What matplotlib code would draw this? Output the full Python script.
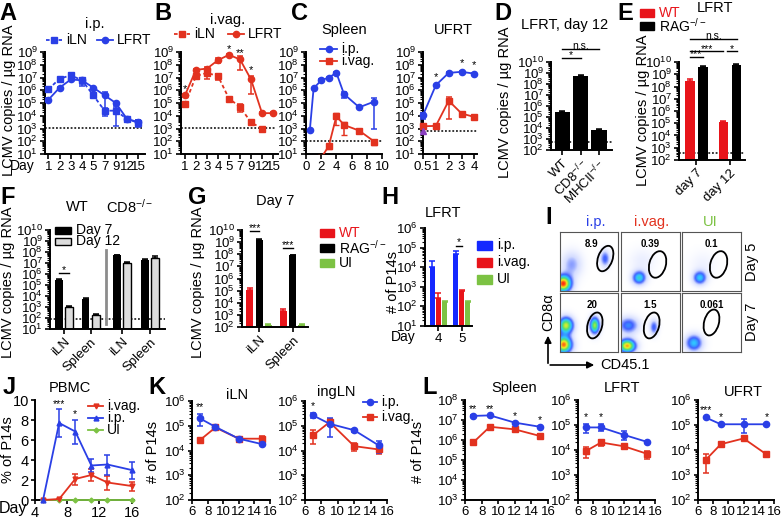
import numpy as np
import matplotlib
matplotlib.use("Agg")
import matplotlib.pyplot as plt
from matplotlib.ticker import LogLocator, NullFormatter, FixedLocator
from matplotlib.patches import Rectangle, Ellipse
from matplotlib.colors import LinearSegmentedColormap

plt.rcParams['font.family'] = ['Liberation Sans', 'DejaVu Sans']
plt.rcParams['mathtext.fontset'] = 'custom'
plt.rcParams['mathtext.rm'] = 'Liberation Sans'
plt.rcParams['mathtext.it'] = 'Liberation Sans:italic'

BLUE = '#2a3fe6'
RED = '#e2321f'
GREEN = '#7cc243'
BBLUE = '#1428ff'
BRED = '#e8141a'

# ---------------- data ----------------
# A / B : viral load, days shown as categories
days_ab = ['1', '2', '3', '4', '5', '7', '9', '12', '15']
a_iln = [1.2e6, 8e6, 1.5e7, 6e6, 4e5, 2.5e4, 2.5e4, 5.6e3, 2.8e3]
a_iln_err = [5e5, 1e6, 6e6, 4e6, 1e5, 1.5e4, 2.35e4, 1e3, 1.5e3]
a_lfrt = [1.8e5, 1.6e6, 7e6, 6e6, 1.6e6, 4e5, 1e5, 5.6e3, 3.2e3]
a_lfrt_err = [5e4, 3e5, 2e6, 3e6, 3e5, 3.7e5, 3e4, 1e3, 1.5e3]

b_iln = [8e4, 1.3e7, 2.3e7, 1.3e7, 2.2e5, 5e4, 3e3, 1e3]
b_iln_err = [1e4, 5e6, 1.5e7, 7e6, 3e4, 3e4, 5e2, 1e2]
b_lfrt = [4e5, 4e7, 5e7, 2.3e8, 6e8, 2.6e8, 7e6, 1.6e4, 1.6e4]
b_lfrt_err = [1e5, 1e7, 1.5e7, 1e8, 1e8, 2.2e8, 6.5e6, 2e3, 2e3]

# C : spleen (numeric days) and UFRT (category days)
c_spl_ip_x = [0.5, 1, 2, 3, 4, 5, 7, 9]
c_spl_ip = [7e2, 1.4e6, 6e6, 1e7, 2.3e7, 5e5, 4.6e4, 1.3e5]
c_spl_ip_err = [1e2, 2e5, 1e6, 1e6, 2e6, 2.5e5, 5e3, 1.29e5]
c_spl_iv_x = [2, 3, 4, 5, 7, 9]
c_spl_iv = [5, 43, 9.3e3, 1.9e3, 6.8e2, 93]
c_spl_iv_err = [0, 20, 7.5e3, 1.6e3, 1e2, 40]

days_ufrt = ['0.5', '1', '2', '3', '4']
c_ufrt_ip = [1.1e4, 2.5e6, 2.3e7, 2.8e7, 2e7]
c_ufrt_ip_err = [5e3, 3e5, 3e6, 3e6, 2e6]
c_ufrt_iv = [1.5e3, 1.6e3, 1.5e5, 1.5e4, 8e3]
c_ufrt_iv_err = [6e2, 2e2, 1.44e5, 2e3, 1e3]

# D : LFRT day 12
d_groups = ['WT', 'CD8$^{-/-}$', 'MHCII$^{-/-}$']
d_vals = [3e5, 5e8, 7e3]
d_err = [5e4, 2e8, 2e3]

# E : LFRT WT vs RAG
e_groups = ['day 7', 'day 12']
e_wt = [3e8, 1.2e5]
e_wt_err = [8e7, 3e4]
e_rag = [4e9, 6e9]
e_rag_err = [1e9, 1e9]

# F : WT / CD8-/- day 7 vs day 12
f_groups = ['iLN', 'Spleen', 'iLN', 'Spleen']
f_d7 = [3e5, 5e3, 5e7, 2e7]
f_d7_err = [8e4, 1.5e3, 5e6, 3e6]
f_d12 = [1e3, 2e2, 1e7, 3e7]
f_d12_err = [2e2, 50, 3e6, 1.2e7]

# G : day 7 WT / RAG / UI
g_groups = ['iLN', 'Spleen']
g_wt = [1.2e5, 2e3]
g_wt_err = [5e4, 1e3]
g_rag = [1.5e9, 8e7]
g_rag_err = [2e8, 1e7]
g_ui = [1.5e2, 1.5e2]
g_ui_err = [30, 20]

# H : LFRT P14 numbers
h_days = ['4', '5']
h_ip = [1e4, 5e4]
h_ip_err = [1e4, 1.5e4]
h_iv = [2.8e2, 6e2]
h_iv_err = [2e2, 50]
h_ui = [1.6e2, 1.6e2]
h_ui_err = [20, 20]

# I : flow gates (column, row) -> frequency
i_freq = [['8.9', '0.39', '0.1'], ['20', '1.5', '0.061']]

# J : PBMC
j_days = [5, 7, 9, 11, 13, 16]
j_iv = [0, 0.1, 2.1, 2.5, 1.75, 1.4]
j_iv_err = [0, 0.05, 0.55, 0.6, 0.7, 0.45]
j_ip = [0, 7.7, 6.85, 3.45, 3.55, 3.0]
j_ip_err = [0, 1.4, 1.2, 0.65, 1.0, 0.85]
j_ui = [0, 0, 0, 0, 0, 0]

# K / L : P14 numbers in tissues
kl_days = [7, 9, 12, 15]
k_iln_ip = [2e5, 9e4, 3e4, 1.8e4]
k_iln_ip_err = [1e5, 1e4, 4e3, 2e3]
k_iln_iv = [2.6e4, 8.5e4, 3e4, 3e4]
k_iln_iv_err = [2e3, 1e4, 6e3, 8e3]
k_ing_ip = [2.6e5, 1.2e5, 6.6e4, 1.6e4]
k_ing_ip_err = [6e4, 8.6e4, 1e4, 8e3]
k_ing_iv = [4.2e4, 1.4e5, 1.5e4, 1.1e4]
k_ing_iv_err = [2.3e4, 4e4, 5e3, 4e3]
l_spl_ip = [1.6e7, 1.7e7, 7.4e6, 4.6e6]
l_spl_ip_err = [1.5e6, 1.5e6, 1e6, 5e5]
l_spl_iv = [7.6e5, 4.6e6, 3.4e6, 1.6e6]
l_spl_iv_err = [1e5, 5e5, 5e5, 3e5]
l_lfrt_ip = [8e4, 8e4, 4e4, 2.1e4]
l_lfrt_ip_err = [3e4, 2.5e4, 1.5e4, 2e3]
l_lfrt_iv = [9e3, 2e4, 1.4e4, 7e3]
l_lfrt_iv_err = [4e3, 5e3, 2e3, 2.5e3]
l_ufrt_ip = [2e5, 1.07e5, 1.07e5, 1.07e5]
l_ufrt_ip_err = [1e4, 5e3, 6e4, 5e3]
l_ufrt_iv = [4e3, 1.7e4, 2.9e4, 6.7e3]
l_ufrt_iv_err = [2.8e3, 2e3, 3e3, 5e2]

# ---------------- helpers ----------------
W, H = 783, 519
fig = plt.figure(figsize=(W / 100, H / 100), dpi=100)

FS = 9.5


def add_ax(l, t, r, b):
    return fig.add_axes([l / W, 1 - b / H, (r - l) / W, (b - t) / H])


def prism(ax, fs=FS, tl=3.5):
    for s in ['top', 'right']:
        ax.spines[s].set_visible(False)
    for s in ['left', 'bottom']:
        ax.spines[s].set_linewidth(1.4)
    ax.tick_params(direction='out', length=tl, width=1.2, labelsize=fs, pad=1.5)
    ax.tick_params(which='minor', length=2, width=0.8)
    ax.patch.set_alpha(0)


def logy(ax, lo, hi):
    ax.set_yscale('log')
    ax.set_ylim(10 ** lo, 10 ** hi)
    ax.yaxis.set_major_locator(FixedLocator([10.0 ** k for k in range(lo, hi + 1)]))
    ax.set_yticklabels(['$10^{%d}$' % k for k in range(lo, hi + 1)])
    ax.yaxis.set_minor_locator(LogLocator(base=10, subs=np.arange(2, 10) * 1.0, numticks=100))
    ax.yaxis.set_minor_formatter(NullFormatter())


def series(ax, x, y, err, color, marker, ls='-', ms=4.5):
    ax.errorbar(x, y, yerr=err, color=color, marker=marker, ls=ls, lw=1.3, ms=ms,
                capsize=2.5, elinewidth=1.1, capthick=1.1, clip_on=False, zorder=3)


def bars(ax, x, y, err, width, color, lo, edge=None):
    y = np.asarray(y, float)
    ax.bar(x, y - 10.0 ** lo, width, bottom=10.0 ** lo, color=color,
           edgecolor=edge if edge else color, lw=1 if edge else 0, zorder=2)
    ax.errorbar(x, y, yerr=[np.zeros(len(y)), err], fmt='none', ecolor=edge if edge else color,
                capsize=2.3, elinewidth=1.1, capthick=1.1, zorder=3)


def dotted(ax, y, x0=0, x1=1):
    ax.axhline(y, x0, x1, color='k', ls=(0, (1.2, 1.2)), lw=1.1, zorder=1)


def sig(ax, x1, x2, y, txt, dy=1.35):
    ax.plot([x1, x2], [y, y], color='k', lw=1, clip_on=False)
    ax.text((x1 + x2) / 2, y * dy, txt, ha='center', va='center', fontsize=7.5)


ov = fig.add_axes([0, 0, 1, 1])
ov.set_xlim(0, W)
ov.set_ylim(H, 0)
ov.axis('off')


def T(x, y, s, **kw):
    kw.setdefault('fontsize', 10.5)
    kw.setdefault('ha', 'center')
    kw.setdefault('va', 'center')
    ov.text(x, y, s, **kw)


def leg_line(x1, x2, y, color, marker, ls, label, tcolor='k', ms=4.5, fs=10):
    ov.plot([x1, x2], [y, y], color=color, ls=ls, lw=1.3)
    ov.plot([(x1 + x2) / 2], [y], color=color, marker=marker, ms=ms)
    T(x2 + 4, y, label, ha='left', color=tcolor, fontsize=fs)


def leg_box(x, y, color, label, tcolor='k', w=14, h=8, edge=None, fs=10):
    ov.add_patch(Rectangle((x, y - h / 2), w, h, color=color, ec=edge if edge else color, lw=1))
    T(x + w + 5, y, label, ha='left', color=tcolor, fontsize=fs)


for lab, (x, y) in zip('ABCDEFGHIJKL', [(8, 13), (163, 13), (300, 13), (503, 13), (625, 13),
                                        (8, 197), (197, 197), (390, 197), (549, 218),
                                        (9, 388), (157, 388), (430, 388)]):
    T(x, y, lab, fontsize=17, fontweight='bold')

YL = 'LCMV copies / \u00b5g RNA'

# ---------------- A ----------------
ax = add_ax(45, 52, 145, 154)
prism(ax)
logy(ax, 1, 9)
xa = np.arange(len(days_ab))
series(ax, xa, a_iln, a_iln_err, BLUE, 's', ls=(0, (2, 1.5)))
series(ax, xa, a_lfrt, a_lfrt_err, BLUE, 'o')
dotted(ax, 1.1e3, 0, 0.97)
ax.set_xlim(-0.3, 8.6)
ax.set_xticks(xa)
ax.set_xticklabels(days_ab)
T(95, 24, 'i.p.')
leg_line(46, 62, 40, BLUE, 's', (0, (2, 1.5)), 'iLN')
leg_line(97, 113, 40, BLUE, 'o', '-', 'LFRT')
T(22, 166, 'Day', fontsize=FS + 0.5)
T(9, 100, YL, rotation=90)

# ---------------- B ----------------
ax = add_ax(181, 52, 278, 154)
prism(ax)
logy(ax, 1, 9)
series(ax, xa[:len(b_iln)], b_iln, b_iln_err, RED, 's', ls=(0, (2, 1.5)))
series(ax, xa, b_lfrt, b_lfrt_err, RED, 'o')
dotted(ax, 1.1e3, 0, 0.97)
ax.set_xlim(-0.36, 8.45)
ax.set_xticks(xa)
ax.set_xticklabels(days_ab)
for i, s, yy in [(0, '*', 1.3e6), (4, '*', 1.6e9), (5, '**', 9e8), (6, '*', 3.5e7)]:
    ax.text(i, yy, s, ha='center', va='center', fontsize=8)
T(228, 20, 'i.vag.')
leg_line(174, 190, 34, RED, 's', (0, (2, 1.5)), 'iLN')
leg_line(228, 244, 34, RED, 'o', '-', 'LFRT')

# ---------------- C ----------------
ax = add_ax(306, 52, 382, 154)
prism(ax)
logy(ax, 1, 9)
series(ax, c_spl_ip_x, c_spl_ip, c_spl_ip_err, BLUE, 'o')
ax.errorbar(c_spl_iv_x, c_spl_iv, yerr=c_spl_iv_err, color=RED, marker='s', lw=1.3, ms=4.5,
            capsize=2.5, elinewidth=1.1, zorder=3)
dotted(ax, 1e2)
ax.set_xlim(0, 10)
ax.set_xticks([0, 2, 4, 6, 8, 10])
T(344, 30, 'Spleen')
leg_line(320, 337, 49, BLUE, 'o', '-', 'i.p.')
leg_line(320, 337, 61, RED, 's', '-', 'i.vag.')

ax = add_ax(423, 52, 477, 154)
prism(ax)
logy(ax, 1, 9)
xu = np.arange(len(days_ufrt))
series(ax, xu, c_ufrt_iv, c_ufrt_iv_err, RED, 's')
series(ax, xu, c_ufrt_ip, c_ufrt_ip_err, BLUE, 'o')
ax.plot([0], [6e2], marker='^', color='#8a3fc0', ms=4.5, clip_on=False, zorder=4)
dotted(ax, 6e2)
ax.set_xlim(0, 4.2)
ax.set_xticks(xu)
ax.set_xticklabels(days_ufrt)
for i in [1, 3, 4]:
    ax.text(i, c_ufrt_ip[i] * 4.5, '*', ha='center', va='center', fontsize=8)
T(453, 30, 'UFRT')

# ---------------- D ----------------
ax = add_ax(551, 62, 612, 150)
prism(ax)
logy(ax, 2, 10)
xd = np.arange(3)
bars(ax, xd, d_vals, d_err, 0.82, 'k', 2)
dotted(ax, 5e2)
ax.set_xlim(-0.6, 2.7)
ax.set_xticks(xd)
ax.set_xticklabels(d_groups, rotation=45, ha='right', rotation_mode='anchor')
sig(ax, 0, 1, 2.2e10, '*', dy=1.9)
sig(ax, 0, 2, 1.4e11, 'n.s.', dy=1.9)
T(565, 25, 'LFRT, day 12')
T(505, 102, YL, rotation=90)

# ---------------- E ----------------
ax = add_ax(679, 62, 745, 160)
prism(ax)
logy(ax, 2, 10)
xe = np.arange(2)
bars(ax, xe - 0.195, e_wt, e_wt_err, 0.28, BRED, 2)
bars(ax, xe + 0.195, e_rag, e_rag_err, 0.28, 'k', 2)
dotted(ax, 4e2)
ax.set_xlim(-0.52, 1.45)
ax.set_xticks(xe)
ax.set_xticklabels(e_groups, rotation=45, ha='right', rotation_mode='anchor')
sig(ax, -0.195, 0.195, 2.6e10, '***', dy=1.6)
sig(ax, -0.195, 0.8, 7.5e10, '***', dy=1.6)
sig(ax, 0.9, 1.2, 7.5e10, '*', dy=1.6)
sig(ax, -0.195, 1.2, 8e11, 'n.s.', dy=1.8)
T(715, 8, 'LFRT')
leg_box(640, 13, BRED, 'WT', tcolor=BRED)
leg_box(640, 26, 'k', 'RAG$^{-/-}$')
T(643, 110, YL, rotation=90)

# ---------------- F ----------------
ax = add_ax(50, 230, 165, 329)
prism(ax)
logy(ax, 1, 10)
xf = np.array([0, 1, 2.2, 3.24])
bars(ax, xf - 0.19, f_d7, f_d7_err, 0.3, 'k', 1)
bars(ax, xf + 0.19, f_d12, f_d12_err, 0.3, '#dcdcdc', 1, edge='k')
dotted(ax, 9e1)
ax.axvline(1.58, 0.05, 0.8, color='#8c8c8c', lw=2)
ax.set_xlim(-0.53, 3.81)
ax.set_xticks(xf)
ax.set_xticklabels(f_groups, rotation=45, ha='right', rotation_mode='anchor')
sig(ax, -0.19, 0.19, 1.3e6, '*', dy=1.9)
T(77, 207, 'WT')
T(130, 207, 'CD8$^{-/-}$')
leg_box(55, 230, 'k', 'Day 7', w=16, h=7)
leg_box(55, 241, '#dcdcdc', 'Day 12', w=16, h=7, edge='k')
T(8, 282, YL, rotation=90)

# ---------------- G ----------------
ax = add_ax(242, 230, 308, 327)
prism(ax)
logy(ax, 2, 10)
xg = np.arange(2)
bars(ax, xg - 0.28, g_wt, g_wt_err, 0.21, BRED, 2)
bars(ax, xg, g_rag, g_rag_err, 0.21, 'k', 2)
bars(ax, xg + 0.27, g_ui, g_ui_err, 0.21, GREEN, 2)
ax.set_xlim(-0.52, 1.46)
ax.set_xticks(xg)
ax.set_xticklabels(g_groups, rotation=45, ha='right', rotation_mode='anchor')
sig(ax, -0.28, 0, 9e9, '***', dy=1.5)
sig(ax, 0.72, 1.0, 3.5e8, '***', dy=1.5)
T(275, 201, 'Day 7')
leg_box(320, 233, BRED, 'WT', tcolor=BRED)
leg_box(320, 248, 'k', 'RAG$^{-/-}$')
leg_box(320, 263, GREEN, 'UI', tcolor='k')
T(198, 282, YL, rotation=90)

# ---------------- H ----------------
ax = add_ax(425, 228, 472, 326)
prism(ax)
logy(ax, 1, 6)
xh = np.arange(2)
bars(ax, xh - 0.26, h_ip, h_ip_err, 0.23, BBLUE, 1)
bars(ax, xh, h_iv, h_iv_err, 0.23, BRED, 1)
bars(ax, xh + 0.26, h_ui, h_ui_err, 0.23, GREEN, 1)
ax.set_xlim(-0.58, 1.44)
ax.set_xticks(xh)
ax.set_xticklabels(h_days)
sig(ax, 0.74, 1.0, 1.2e5, '*', dy=1.6)
T(443, 213, 'LFRT')
T(403, 337, 'Day', fontsize=FS + 0.5)
leg_box(477, 245, BBLUE, 'i.p.', w=15, h=9)
leg_box(477, 262, BRED, 'i.vag.', w=15, h=9)
leg_box(477, 279, GREEN, 'UI', w=15, h=9)
T(393, 282, '# of P14s', rotation=90)

# ---------------- I (flow plots) ----------------
flow_cmap = LinearSegmentedColormap.from_list(
    'flow', ['white', '#d4dcff', '#4060ff', '#30c8ff', '#50e070', '#f4f020', '#ff3010'])
# blobs: (cx, cy, sx, sy, amp)
i_blobs = [
    [[(0.05, 0.12, 0.1, 0.1, 1.0), (0.2, 0.45, 0.12, 0.15, 0.25), (0.78, 0.55, 0.06, 0.1, 0.35)],
     [(0.3, 0.22, 0.08, 0.08, 0.55), (0.35, 0.5, 0.15, 0.15, 0.08)],
     [(0.3, 0.22, 0.08, 0.08, 0.5), (0.35, 0.45, 0.15, 0.15, 0.06)]],
    [[(0.06, 0.12, 0.1, 0.1, 0.95), (0.1, 0.45, 0.09, 0.1, 0.8), (0.6, 0.45, 0.06, 0.1, 0.75)],
     [(0.1, 0.1, 0.1, 0.08, 0.9), (0.12, 0.45, 0.12, 0.1, 0.4), (0.55, 0.42, 0.05, 0.09, 0.35)],
     [(0.2, 0.15, 0.1, 0.1, 0.5)]]]
i_gates = [[(0.78, 0.55, 0.25, 0.45, -20), (0.62, 0.45, 0.28, 0.46, -15), (0.62, 0.45, 0.28, 0.46, -15)],
           [(0.6, 0.45, 0.25, 0.45, -15), (0.52, 0.45, 0.25, 0.45, -15), (0.5, 0.5, 0.25, 0.45, -15)]]
gx, gy = np.meshgrid(np.linspace(0, 1, 90), np.linspace(0, 1, 90))
cols_x = [(560, 618), (621, 680), (682, 741)]
rows_y = [(232, 291), (293, 352)]
for r in range(2):
    for c in range(3):
        ax = add_ax(cols_x[c][0], rows_y[r][0], cols_x[c][1], rows_y[r][1])
        z = np.zeros_like(gx)
        for (cx, cy, sx, sy, amp) in i_blobs[r][c]:
            z += amp * np.exp(-((gx - cx) ** 2 / (2 * sx ** 2) + (gy - cy) ** 2 / (2 * sy ** 2)))
        ax.imshow(z, origin='lower', extent=[0, 1, 0, 1], cmap=flow_cmap, vmin=0, vmax=1,
                  aspect='auto', interpolation='bilinear')
        ex, ey, ew, eh, ea = i_gates[r][c]
        ax.add_patch(Ellipse((ex, ey), ew, eh, angle=ea, fill=False, lw=1.3, ec='k'))
        ax.text(0.5 if c else 0.55, 0.8, i_freq[r][c], ha='center', va='center',
                fontsize=7, fontweight='bold', transform=ax.transAxes)
        ax.set_xlim(0, 1)
        ax.set_ylim(0, 1)
        ax.set_xticks([])
        ax.set_yticks([])
        for s in ax.spines.values():
            s.set_linewidth(0.8)
            s.set_color('#555555')
T(596, 222, 'i.p.', color=BLUE)
T(652, 222, 'i.vag.', color=RED)
T(710, 222, 'UI', color=GREEN)
T(752, 262, 'Day 5', rotation=90)
T(752, 322, 'Day 7', rotation=90)
ov.annotate('', xy=(548, 333), xytext=(548, 366),
            arrowprops=dict(arrowstyle='-|>', color='k', lw=1.2, mutation_scale=10))
ov.annotate('', xy=(597, 365), xytext=(547.4, 365),
            arrowprops=dict(arrowstyle='-|>', color='k', lw=1.2, mutation_scale=10))
T(548, 312, 'CD8\u03b1', rotation=90)
T(600, 365, 'CD45.1', ha='left')

# ---------------- J ----------------
ax = add_ax(35, 400, 134, 500)
prism(ax, fs=10.5, tl=3)
series(ax, j_days, j_iv, j_iv_err, RED, 'v', ms=3.5)
series(ax, j_days, j_ip, j_ip_err, BLUE, '^', ms=3.5)
ax.plot(j_days, j_ui, color=GREEN, marker='D', ms=2.5, lw=1.3, clip_on=False, zorder=3)
ax.set_xlim(4, 16.3)
ax.set_ylim(0, 10)
ax.set_xticks([4, 8, 12, 16])
ax.set_xticklabels(['4', '8', '12', '16'])
ax.set_yticks([0, 2, 4, 6, 8, 10])
ax.text(7, 9.6, '***', ha='center', va='center', fontsize=7.5)
ax.text(9, 8.6, '*', ha='center', va='center', fontsize=7.5)
T(70, 388, 'PBMC')
leg_line(88, 103, 406, RED, 'v', '-', 'i.vag.', ms=3.5)
leg_line(88, 103, 418, BLUE, '^', '-', 'i.p.', ms=3.5)
leg_line(88, 103, 430, GREEN, 'D', '-', 'UI', ms=2.5)
T(13, 509, 'Day', fontsize=11.5)
T(8, 450, '% of P14s', rotation=90)

# ---------------- K / L ----------------
kl_panels = [
    ((192, 401, 270, 500), 2, 6, 'iLN', (237, 395),
     k_iln_ip, k_iln_ip_err, k_iln_iv, k_iln_iv_err, [(0, '**')]),
    ((305, 401, 387, 500), 2, 6, 'ingLN', (336, 392),
     k_ing_ip, k_ing_ip_err, k_ing_iv, k_ing_iv_err, [(0, '*')]),
    ((465, 400, 548, 500), 3, 8, 'Spleen', (514, 388),
     l_spl_ip, l_spl_ip_err, l_spl_iv, l_spl_iv_err, [(0, '**'), (1, '**'), (2, '*'), (3, '*')]),
    ((578, 400, 655, 500), 2, 6, 'LFRT', (622, 388),
     l_lfrt_ip, l_lfrt_ip_err, l_lfrt_iv, l_lfrt_iv_err, [(0, '*'), (1, '*')]),
    ((698, 400, 774, 500), 2, 6, 'UFRT', (743, 392),
     l_ufrt_ip, l_ufrt_ip_err, l_ufrt_iv, l_ufrt_iv_err, [(0, '***'), (1, '*'), (3, '*')]),
]
for rect, lo, hi, title, tpos, ip, ip_e, iv, iv_e, stars in kl_panels:
    ax = add_ax(*rect)
    prism(ax, fs=9.5, tl=3)
    logy(ax, lo, hi)
    series(ax, kl_days, iv, iv_e, RED, 's')
    series(ax, kl_days, ip, ip_e, BLUE, 'o')
    ax.set_xlim(6, 16)
    ax.set_xticks([6, 8, 10, 12, 14, 16])
    for i, s in stars:
        ax.text(kl_days[i], (ip[i] + ip_e[i]) * 1.9, s, ha='center', va='center', fontsize=7.5)
    T(tpos[0], tpos[1], title)
leg_line(363, 377, 402, BLUE, 'o', '-', 'i.p.')
leg_line(363, 377, 417, RED, 's', '-', 'i.vag.')
T(153, 452, '# of P14s', rotation=90)
T(418, 452, '# of P14s', rotation=90)

fig.savefig('out.png', dpi=100)
